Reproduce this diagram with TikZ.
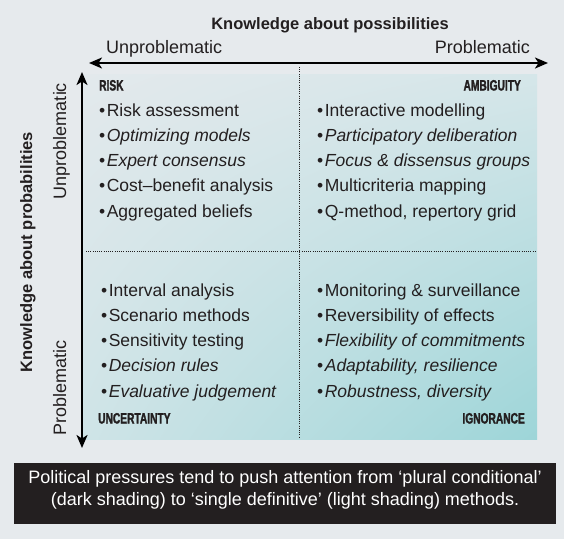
\documentclass[tikz,border=0pt]{standalone}
\usepackage{fontspec}
\setmainfont{Liberation Sans}
\newfontfamily\condfont[FakeStretch=0.68,FakeBold=1.6]{Liberation Sans}
\usetikzlibrary{arrows.meta,shadings}
\definecolor{bg}{HTML}{E6EAED}
\definecolor{ink}{HTML}{231F20}
\definecolor{shUL}{HTML}{E3E9EC}
\definecolor{shUR}{HTML}{D5E6E9}
\definecolor{shLL}{HTML}{CFE4E7}
\definecolor{shLR}{HTML}{9DD5D8}
\begin{document}
\begin{tikzpicture}[x=1pt,y=-1pt,
  item/.style={anchor=base west, inner sep=0pt, text=ink, font=\fontsize{17.5}{20}\selectfont},
  quadlabel/.style={inner sep=0pt, text=ink, font=\condfont\bfseries\fontsize{15}{16}\selectfont},
  axislabel/.style={inner sep=0pt, text=ink, font=\fontsize{18}{20}\selectfont},
  axistitle/.style={inner sep=0pt, text=ink, font=\bfseries\fontsize{16.5}{20}\selectfont},
  axisarrow/.style={line width=2pt, draw=black, {Stealth[length=13pt,width=11pt,inset=3.5pt]}-{Stealth[length=13pt,width=11pt,inset=3.5pt]}},
  divider/.style={draw=ink, line width=0.7pt, dash pattern=on 0.8pt off 1.4pt},
  notetext/.style={inner sep=0pt, text=white, font=\fontsize{18}{21.5}\selectfont, align=center}
]
\useasboundingbox[fill=bg] (0,0) rectangle (564,539);

% shaded matrix
\shade[upper left=shUL, upper right=shUR, lower left=shLL, lower right=shLR] (83,74) rectangle (537,439);

% dividers
\coordinate (vtop) at (299,67);
\coordinate (vbot) at (299,437);
\coordinate (hleft) at (86,251);
\coordinate (hright) at (536,251);
\draw[divider] (vtop) -- (vbot);
\draw[divider] (hleft) -- (hright);

% axes
\coordinate (xl) at (89,63);
\coordinate (xr) at (548,63);
\coordinate (yt) at (82,72);
\coordinate (yb) at (82,448);
\draw[axisarrow] (xl) -- (xr);
\draw[axisarrow] (yt) -- (yb);

% axis titles and labels
\node[axistitle, anchor=base] (ttop) at (330,29) {Knowledge about possibilities};
\node[axislabel, anchor=base west] (xunp) at (106,53) {Unproblematic};
\node[axislabel, anchor=base east] (xprob) at (530,53) {Problematic};
\node[axistitle, anchor=base, rotate=90] (tleft) at (32,252) {Knowledge about probabilities};
\node[axislabel, anchor=base, rotate=90] (yunp) at (66,141) {Unproblematic};
\node[axislabel, anchor=base, rotate=90] (yprob) at (66,388) {Problematic};

% quadrant labels
\node[quadlabel, anchor=base west] (risk) at (99,90.5) {RISK};
\node[quadlabel, anchor=base east] (amb) at (521,90.5) {AMBIGUITY};
\node[quadlabel, anchor=base west] (unc) at (98,423.5) {UNCERTAINTY};
\node[quadlabel, anchor=base east] (ign) at (525,423.5) {IGNORANCE};

% risk
\node[item] (r1) at (99,116.3) {\textbullet\hspace{1.5pt}Risk assessment};
\node[item] (r2) at (99,141.5) {\textbullet\hspace{1.5pt}\textit{Optimizing models}};
\node[item] (r3) at (99,166.7) {\textbullet\hspace{1.5pt}\textit{Expert consensus}};
\node[item] (r4) at (99,191.9) {\textbullet\hspace{1.5pt}Cost–benefit analysis};
\node[item] (r5) at (99,217.1) {\textbullet\hspace{1.5pt}Aggregated beliefs};

% ambiguity
\node[item] (a1) at (317,116.3) {\textbullet\hspace{1.5pt}Interactive modelling};
\node[item] (a2) at (317,141.5) {\textbullet\hspace{1.5pt}\textit{Participatory deliberation}};
\node[item] (a3) at (317,166.7) {\textbullet\hspace{1.5pt}\textit{Focus \& dissensus groups}};
\node[item] (a4) at (317,191.9) {\textbullet\hspace{1.5pt}Multicriteria mapping};
\node[item] (a5) at (317,217.1) {\textbullet\hspace{1.5pt}Q-method, repertory grid};

% uncertainty
\node[item] (u1) at (101,296.3) {\textbullet\hspace{1.5pt}Interval analysis};
\node[item] (u2) at (101,321.5) {\textbullet\hspace{1.5pt}Scenario methods};
\node[item] (u3) at (101,346.7) {\textbullet\hspace{1.5pt}Sensitivity testing};
\node[item] (u4) at (101,371.9) {\textbullet\hspace{1.5pt}\textit{Decision rules}};
\node[item] (u5) at (101,397.1) {\textbullet\hspace{1.5pt}\textit{Evaluative judgement}};

% ignorance
\node[item] (i1) at (317,296.3) {\textbullet\hspace{1.5pt}Monitoring \& surveillance};
\node[item] (i2) at (317,321.5) {\textbullet\hspace{1.5pt}Reversibility of effects};
\node[item] (i3) at (317,346.7) {\textbullet\hspace{1.5pt}\textit{Flexibility of commitments}};
\node[item] (i4) at (317,371.9) {\textbullet\hspace{1.5pt}\textit{Adaptability, resilience}};
\node[item] (i5) at (317,397.1) {\textbullet\hspace{1.5pt}\textit{Robustness, diversity}};

% note box
\fill[ink] (14,463) rectangle (556,524);
\node[notetext] (note) at (285,490) {Political pressures tend to push attention from ‘plural conditional’\\(dark shading) to ‘single definitive’ (light shading) methods.};
\end{tikzpicture}
\end{document}
